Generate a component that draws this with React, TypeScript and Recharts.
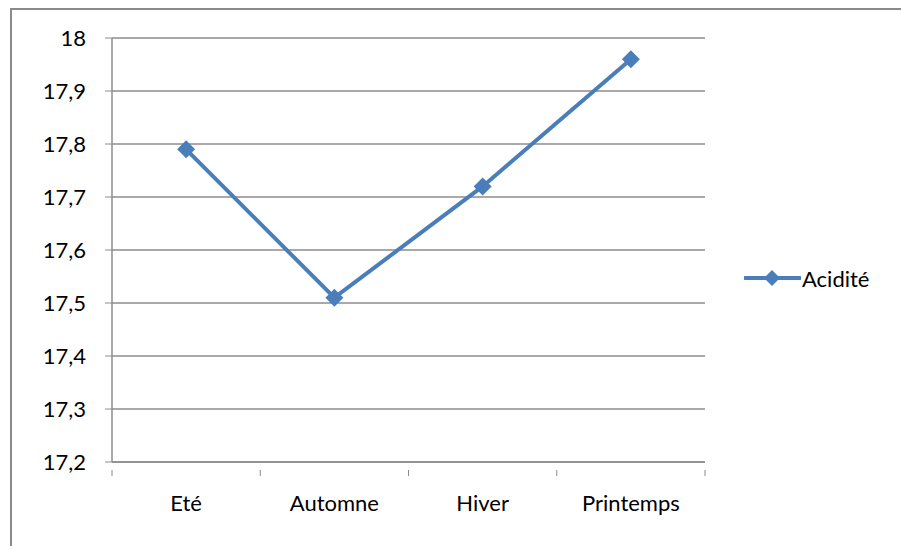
import { LineChart, Line, XAxis, YAxis, CartesianGrid } from 'recharts';

const seasons = ['Eté', 'Automne', 'Hiver', 'Printemps'];
const acidite = [17.79, 17.51, 17.72, 17.96];
const yTicks = [17.2, 17.3, 17.4, 17.5, 17.6, 17.7, 17.8, 17.9, 18];

const data = seasons.map((s, i) => ({ season: s, acidite: acidite[i] }));

const BLUE = '#4a7ebb';
const GRID = '#8c8c8c';
const FONT = 'Lato, "Open Sans", sans-serif';

function formatTick(v: number): string {
  return Number.isInteger(v) ? String(v) : v.toFixed(1).replace('.', ',');
}

function Diamond({ cx, cy, r = 9 }: any) {
  if (cx == null || cy == null) return <g />;
  return (
    <path
      d={`M${cx},${cy - r} L${cx + r},${cy} L${cx},${cy + r} L${cx - r},${cy} Z`}
      fill={BLUE}
      stroke="none"
    />
  );
}

// category label at the band centre, tick marks at the band edges (Excel style)
function SeasonTick({ x, y, payload, index, width, visibleTicksCount }: any) {
  const band = width / visibleTicksCount;
  const left = x - band / 2;
  return (
    <g>
      <line x1={left} y1={y} x2={left} y2={y + 6} stroke={GRID} />
      {index === visibleTicksCount - 1 && (
        <line x1={x + band / 2} y1={y} x2={x + band / 2} y2={y + 6} stroke={GRID} />
      )}
      <text x={x} y={y + 41} textAnchor="middle" fontSize={22} fontFamily={FONT} fill="#000">
        {payload.value}
      </text>
    </g>
  );
}

export default function App() {
  return (
    <div style={{ position: 'fixed', left: 0, top: 0, width: 901, height: 546, overflow: 'hidden', background: '#fff' }}>
      <div style={{ position: 'absolute', left: 10, top: 8, width: 1000, height: 700, border: '2px solid #8a8a8a' }} />
      <div style={{ position: 'absolute', left: 0, top: 0 }}>
        <LineChart width={901} height={546} data={data} margin={{ top: 38, right: 196, left: 52, bottom: 0 }}>
          <CartesianGrid horizontal vertical={false} stroke={GRID} strokeWidth={1.5} />
          <XAxis
            dataKey="season"
            scale="band"
            height={84}
            axisLine={{ stroke: GRID, strokeWidth: 1.5 }}
            tickLine={false}
            tick={<SeasonTick />}
            interval={0}
          />
          <YAxis
            width={60}
            domain={[17.2, 18]}
            ticks={yTicks}
            interval={0}
            tickFormatter={formatTick}
            axisLine={{ stroke: GRID, strokeWidth: 1.5 }}
            tickLine={{ stroke: GRID }}
            tickSize={7}
            tickMargin={19}
            tick={{ fontSize: 22, fontFamily: FONT, fill: '#000' }}
          />
          <Line
            dataKey="acidite"
            stroke={BLUE}
            strokeWidth={4}
            dot={(p: any) => <Diamond key={p.index} cx={p.cx} cy={p.cy} />}
            activeDot={false}
            isAnimationActive={false}
          />
        </LineChart>
      </div>
      {/* legend */}
      <div style={{ position: 'absolute', left: 744, top: 264, display: 'flex', alignItems: 'center', fontFamily: FONT, fontSize: 22 }}>
        <svg width={57} height={28}>
          <line x1={1} y1={14} x2={56} y2={14} stroke={BLUE} strokeWidth={4} strokeLinecap="round" />
          <path d="M28,6 L36,14 L28,22 L20,14 Z" fill={BLUE} />
        </svg>
        <span style={{ marginLeft: 1, color: '#000' }}>Acidité</span>
      </div>
    </div>
  );
}
